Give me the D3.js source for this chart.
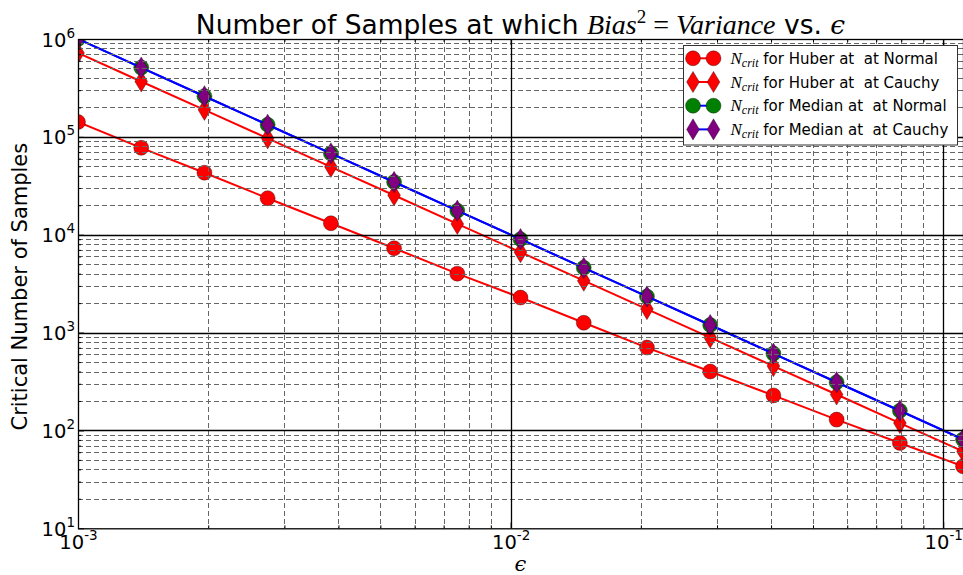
<!DOCTYPE html>
<html>
<head>
<meta charset="utf-8">
<script src="https://cdn.jsdelivr.net/npm/d3@7"></script>
<style>
  html, body { margin: 0; padding: 0; background: #fff; }
  svg { display: block; }
  text { white-space: pre; }
</style>
</head>
<body>
<script>
// ---------------- data ----------------
const eps = [0.001, 0.0014, 0.00196, 0.002744, 0.003842, 0.005378, 0.00753, 0.01054,
             0.01476, 0.02066, 0.02893, 0.0405, 0.0567, 0.0794, 0.1111];
const huberNormal  = [142000, 77300, 43000, 23600, 13100, 7280, 4000, 2280, 1260, 703, 400, 228, 129, 74.5, 43];
const huberCauchy  = [720000, 368000, 189000, 96600, 49400, 25300, 12900, 6630, 3390, 1740, 889, 455, 233, 119, 61];
const medianNormal = [1000000, 510000, 260000, 133000, 67800, 34600, 17600, 9000, 4590, 2340, 1195, 610, 311, 159, 81];
const medianCauchy = [1000000, 510000, 260000, 133000, 67800, 34600, 17600, 9000, 4590, 2340, 1195, 610, 311, 159, 81];
const seriesNames = ["for Huber at  at Normal", "for Huber at  at Cauchy", "for Median at  at Normal", "for Median at  at Cauchy"];
const xMajorTicks = [1e-3, 1e-2, 1e-1];
const yMajorTicks = [1e1, 1e2, 1e3, 1e4, 1e5, 1e6];
const yDomain = [1e1, 1e6];

// ---------------- layout ----------------
const W = 963, H = 575;
const L = 78, R = 963, T = 39, B = 528.3;
const MS = 15; // marker size

const series = [
  { name: seriesNames[0], values: huberNormal,  line: "#ff0000", fill: "#ff0000", shape: "circle" },
  { name: seriesNames[1], values: huberCauchy,  line: "#ff0000", fill: "#ff0000", shape: "diamond" },
  { name: seriesNames[2], values: medianNormal, line: "#0000ff", fill: "#008000", shape: "circle" },
  { name: seriesNames[3], values: medianCauchy, line: "#0000ff", fill: "#800080", shape: "diamond" }
];

const x = d3.scaleLog().domain([eps[0], eps[eps.length - 1]]).range([L, R]);
const y = d3.scaleLog().domain(yDomain).range([B, T]);

const svg = d3.select("body").append("svg").attr("width", W).attr("height", H)
  .attr("font-family", "DejaVu Sans");

svg.append("defs").append("clipPath").attr("id", "clip")
  .append("rect").attr("x", L).attr("y", T).attr("width", R - L).attr("height", B - T);

function markerPath(shape) {
  if (shape === "circle") {
    const r = MS / 2;
    return `M${r},0A${r},${r} 0 1,1 ${-r},0A${r},${r} 0 1,1 ${r},0Z`;
  }
  const h = MS * Math.SQRT2 / 2, w = h * 0.6;
  return `M0,${-h}L${w},0L0,${h}L${-w},0Z`;
}

// ---------------- data layer ----------------
const plot = svg.append("g").attr("clip-path", "url(#clip)");
const line = d3.line().x((d, i) => x(eps[i])).y(d => y(d));
series.forEach(s => {
  plot.append("path").attr("d", line(s.values)).attr("fill", "none")
    .attr("stroke", s.line).attr("stroke-width", 2).attr("stroke-linejoin", "round");
  plot.selectAll(null).data(s.values).enter().append("path")
    .attr("d", markerPath(s.shape))
    .attr("transform", (d, i) => `translate(${x(eps[i])},${y(d)})`)
    .attr("fill", s.fill).attr("stroke", "#000").attr("stroke-width", 0.5).attr("stroke-opacity", 0.7);
});

// ---------------- grid (drawn above data as in the reference) ----------------
const grid = svg.append("g");
function minorOf(domain) {
  const out = [];
  const lo = Math.floor(Math.log10(domain[0])), hi = Math.ceil(Math.log10(domain[1]));
  for (let e = lo; e < hi; e++) for (let k = 2; k <= 9; k++) {
    const v = k * Math.pow(10, e);
    if (v > domain[0] && v < domain[1]) out.push(v);
  }
  return out;
}
const xMinor = minorOf(x.domain());
const yMinor = minorOf(y.domain());
const px = v => Math.round(v) + 0.5;

grid.selectAll(null).data(xMinor).enter().append("line")
  .attr("x1", d => px(x(d))).attr("x2", d => px(x(d))).attr("y1", T).attr("y2", B)
  .attr("stroke", "#666").attr("stroke-width", 1).attr("stroke-dasharray", "5,3");
grid.selectAll(null).data(yMinor).enter().append("line")
  .attr("y1", d => px(y(d))).attr("y2", d => px(y(d))).attr("x1", L).attr("x2", R)
  .attr("stroke", "#666").attr("stroke-width", 1).attr("stroke-dasharray", "5,3");
grid.selectAll(null).data(xMajorTicks.filter(d => d > x.domain()[0])).enter().append("line")
  .attr("x1", d => px(x(d))).attr("x2", d => px(x(d))).attr("y1", T).attr("y2", B)
  .attr("stroke", "#000").attr("stroke-width", 1.3);
grid.selectAll(null).data(yMajorTicks.filter(d => d > yDomain[0] && d < yDomain[1])).enter().append("line")
  .attr("y1", d => px(y(d))).attr("y2", d => px(y(d))).attr("x1", L).attr("x2", R)
  .attr("stroke", "#000").attr("stroke-width", 1.3);

// ---------------- axes ----------------
function styleAxis(g) {
  g.attr("font-family", null).attr("font-size", null);
  g.select(".domain").remove();
  g.selectAll(".tick line").attr("stroke", "#000");
}
function powLabel(sel, anchor) {
  sel.each(function(d) {
    const t = d3.select(this).text(null).attr("dy", null).attr("fill", "#000")
      .attr("font-size", 19.5).attr("text-anchor", anchor);
    t.append("tspan").text("10");
    t.append("tspan").attr("dy", -9).attr("font-size", 13.5).text(String(Math.round(Math.log10(d))));
  });
}
// bottom
const gxB = svg.append("g").attr("transform", `translate(0,${B})`)
  .call(d3.axisBottom(x).tickValues(xMajorTicks).tickSizeInner(-6).tickSizeOuter(0).tickFormat(d => d));
styleAxis(gxB);
gxB.selectAll(".tick text").attr("y", 21).call(powLabel, "middle");
svg.append("g").attr("transform", `translate(0,${B})`)
  .call(d3.axisBottom(x).tickValues(xMinor).tickSizeInner(-3).tickSizeOuter(0).tickFormat(""))
  .call(styleAxis);
// top
svg.append("g").attr("transform", `translate(0,${T})`)
  .call(d3.axisTop(x).tickValues(xMajorTicks).tickSizeInner(-6).tickSizeOuter(0).tickFormat(""))
  .call(styleAxis);
svg.append("g").attr("transform", `translate(0,${T})`)
  .call(d3.axisTop(x).tickValues(xMinor).tickSizeInner(-3).tickSizeOuter(0).tickFormat(""))
  .call(styleAxis);
// left
const gyL = svg.append("g").attr("transform", `translate(${L},0)`)
  .call(d3.axisLeft(y).tickValues(yMajorTicks).tickSizeInner(-6).tickSizeOuter(0).tickFormat(d => d));
styleAxis(gyL);
gyL.selectAll(".tick text").attr("x", -3).attr("y", 7).call(powLabel, "end");
svg.append("g").attr("transform", `translate(${L},0)`)
  .call(d3.axisLeft(y).tickValues(yMinor).tickSizeInner(-3).tickSizeOuter(0).tickFormat(""))
  .call(styleAxis);

// frame
svg.append("rect").attr("x", L + 0.5).attr("y", T + 0.5).attr("width", R - L).attr("height", B - T)
  .attr("fill", "none").attr("stroke", "#000").attr("stroke-width", 1.3);

// ---------------- labels ----------------
const title = svg.append("text").attr("x", (L + R) / 2).attr("y", 34)
  .attr("text-anchor", "middle").attr("font-size", 26.5).attr("fill", "#000");
title.append("tspan").text("Number of Samples at which ");
title.append("tspan").attr("font-family", "Liberation Serif").attr("font-size", 28).attr("font-style", "italic").text("Bias");
title.append("tspan").attr("font-family", "Liberation Serif").attr("font-size", 19).attr("dy", -11).text("2");
title.append("tspan").attr("font-family", "Liberation Serif").attr("font-size", 28).attr("dy", 11).text(" = ");
title.append("tspan").attr("font-family", "Liberation Serif").attr("font-size", 28).attr("font-style", "italic").text("Variance");
title.append("tspan").text(" vs. ");
title.append("tspan").attr("font-family", "DejaVu Serif").attr("font-style", "italic").text("ϵ");

svg.append("text").attr("transform", `translate(27,${(T + B) / 2 + 3}) rotate(-90)`)
  .attr("text-anchor", "middle").attr("font-size", 21).attr("fill", "#000")
  .text("Critical Number of Samples");

svg.append("text").attr("x", (L + R) / 2).attr("y", 571)
  .attr("text-anchor", "middle").attr("font-size", 21).attr("font-family", "DejaVu Serif")
  .attr("font-style", "italic").attr("fill", "#000").text("ϵ");

// ---------------- legend ----------------
const lg = svg.append("g").attr("transform", "translate(683.5,45.5)");
lg.append("rect").attr("width", 274).attr("height", 99.5)
  .attr("fill", "#fff").attr("stroke", "#333").attr("stroke-width", 1);
series.forEach((s, i) => {
  const cy = 12.8 + i * 23.7;
  const row = lg.append("g").attr("transform", `translate(0,${cy})`);
  row.append("line").attr("x1", 9.5).attr("x2", 30).attr("y1", 0).attr("y2", 0)
    .attr("stroke", s.line).attr("stroke-width", 2);
  [9.5, 30].forEach(mx => row.append("path").attr("d", markerPath(s.shape))
    .attr("transform", `translate(${mx},0)`).attr("fill", s.fill)
    .attr("stroke", "#000").attr("stroke-width", 0.5).attr("stroke-opacity", 0.7));
  const t = row.append("text").attr("x", 47).attr("y", 5.5).attr("font-size", 15).attr("fill", "#000");
  t.append("tspan").attr("font-family", "Liberation Serif").attr("font-style", "italic").attr("font-size", 17).text("N");
  t.append("tspan").attr("font-family", "Liberation Serif").attr("font-style", "italic").attr("font-size", 12).attr("dy", 3).text("crit");
  t.append("tspan").attr("dy", -3).text(" " + s.name);
});
</script>
</body>
</html>
